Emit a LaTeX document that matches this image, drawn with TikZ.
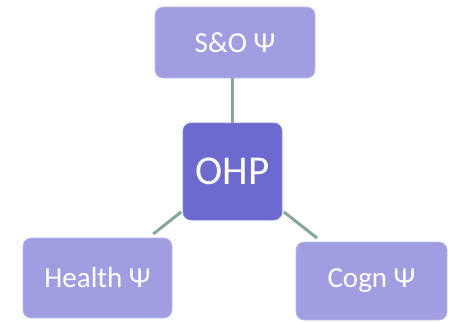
\documentclass[tikz,border=0pt]{standalone}
\usepackage{fontspec}
\setmainfont{Carlito}
\usepackage{tikz}
\usetikzlibrary{calc}
\definecolor{boxlight}{RGB}{160,158,224}
\definecolor{boxdark}{RGB}{108,106,207}
\definecolor{linkgrey}{RGB}{132,166,158}

\tikzset{
  area/.style={rectangle,rounded corners=8pt,fill=boxlight,draw=boxlight!70!white,line width=0.6pt,
    text=white,font=\fontsize{29}{34}\selectfont,inner sep=0pt},
  core/.style={area,fill=boxdark,draw=boxdark!80!white,font=\fontsize{41}{48}\selectfont},
  link/.style={linkgrey,line width=3pt,shorten <=2pt,shorten >=6pt}
}

\begin{document}
\begin{tikzpicture}[x=1pt,y=-1pt]
\useasboundingbox (0,0) rectangle (452,321);
\node[core,minimum width=99pt,minimum height=97pt] (ohp) at (232.5,171.5) {OHP};
\node[area,minimum width=160pt,minimum height=71pt] (so) at (235,42.5) {S\&O Ψ};
\node[area,minimum width=149pt,minimum height=80pt] (health) at (97.5,278) {Health Ψ};
\node[area,minimum width=151pt,minimum height=78pt] (cogn) at (371.5,281) {Cogn Ψ};
\draw[linkgrey,line width=3pt] (so.south -| ohp.north) -- (ohp.north);
\draw[link] (ohp) -- (health);
\draw[link] (ohp) -- (cogn);
\end{tikzpicture}
\end{document}
